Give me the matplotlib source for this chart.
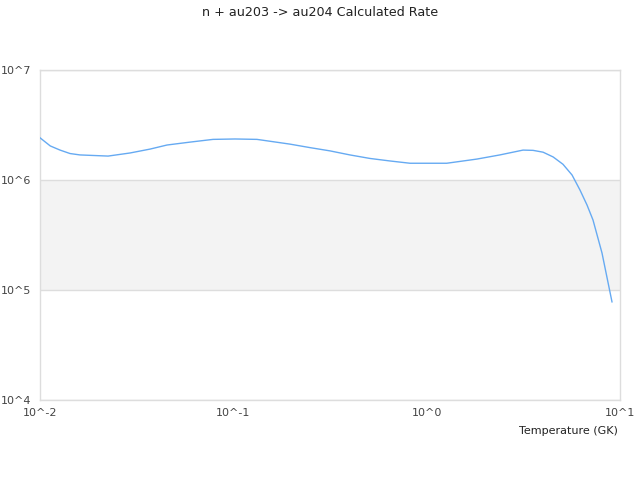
import matplotlib
matplotlib.use('Agg')
import matplotlib.pyplot as plt

# temperature (GK) and calculated rate
temperature = [0.01, 0.0113, 0.0127, 0.0143, 0.0161, 0.0225, 0.0292, 0.0371, 0.0454, 0.0597,
               0.0785, 0.1021, 0.1325, 0.196, 0.249, 0.316, 0.401, 0.509, 0.645, 0.82,
               1.27, 1.82, 2.39, 3.15, 3.55, 4.0, 4.51, 5.07, 5.65, 6.21, 6.75, 7.25,
               8.07, 9.09]
rate = [2.42e6, 2.04e6, 1.87e6, 1.74e6, 1.69e6, 1.65e6, 1.76e6, 1.91e6, 2.08e6, 2.21e6,
        2.34e6, 2.36e6, 2.34e6, 2.12e6, 1.97e6, 1.84e6, 1.69e6, 1.57e6, 1.49e6, 1.42e6,
        1.42e6, 1.55e6, 1.69e6, 1.87e6, 1.86e6, 1.79e6, 1.62e6, 1.39e6, 1.11e6, 8.1e5,
        5.93e5, 4.33e5, 2.17e5, 7.8e4]

x_ticks = [1e-2, 1e-1, 1e0, 1e1]
x_labels = ['10^-2', '10^-1', '10^0', '10^1']
y_ticks = [1e4, 1e5, 1e6, 1e7]
y_labels = ['10^4', '10^5', '10^6', '10^7']

fig = plt.figure(figsize=(6.4, 4.8), dpi=100)
ax = fig.add_axes([40/640, 80/480, 580/640, 330/480])

# grey band between 10^5 and 10^6
ax.axhspan(1e5, 1e6, color='#f3f3f3', zorder=0, lw=0)
for yv in y_ticks:
    ax.axhline(yv, color='#dddddd', lw=1, zorder=1)

ax.plot(temperature, rate, color='#66aaf2', lw=1, zorder=3)

ax.set_xscale('log')
ax.set_yscale('log')
ax.set_xlim(1e-2, 1e1)
ax.set_ylim(1e4, 1e7)
ax.minorticks_off()
ax.set_xticks(x_ticks, x_labels)
ax.set_yticks(y_ticks, y_labels)
ax.tick_params(length=0, labelsize=8, colors='#444444', pad=6)
for s in ax.spines.values():
    s.set_color('#dddddd')
    s.set_linewidth(1)

fig.text(0.5, 0.975, 'n + au203 -> au204 Calculated Rate', ha='center', va='center',
         fontsize=9.2, color='#222222')
fig.text(618/640, 1 - 431/480, 'Temperature (GK)', ha='right', va='center',
         fontsize=8, color='#222222')

fig.savefig('out.png', dpi=100)
